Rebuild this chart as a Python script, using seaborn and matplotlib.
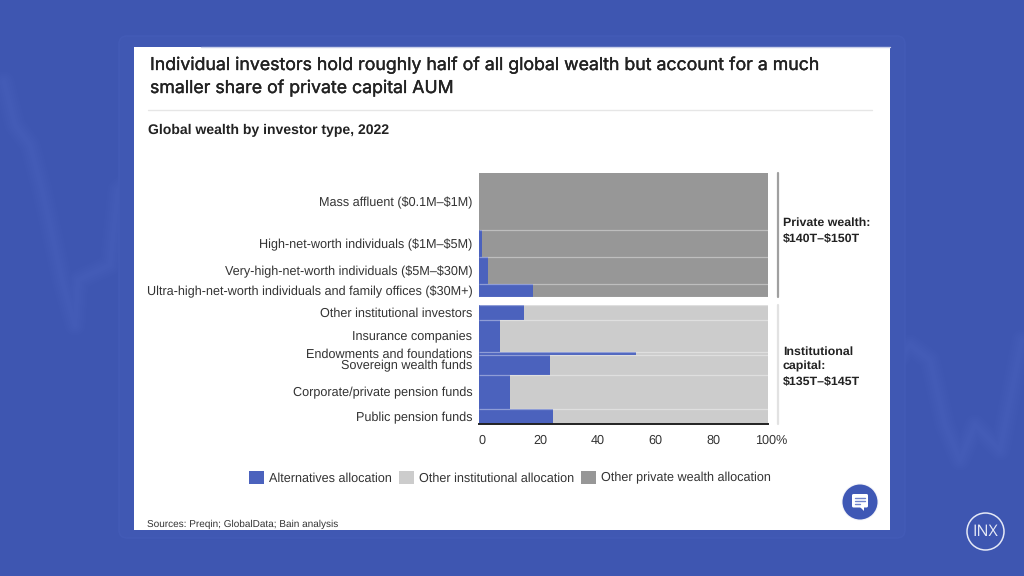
import numpy as np
import pandas as pd
import matplotlib
matplotlib.use("Agg")
import matplotlib.pyplot as plt
import matplotlib.patheffects as pe
from matplotlib.patches import Rectangle, Circle, FancyBboxPatch, Polygon
from matplotlib.transforms import ScaledTranslation
import seaborn as sns

categories = [r"Mass affluent (\$0.1M–\$1M)", r"High-net-worth individuals (\$1M–\$5M)",
              r"Very-high-net-worth individuals (\$5M–\$30M)",
              r"Ultra-high-net-worth individuals and family offices (\$30M+)",
              "Other institutional investors", "Insurance companies",
              "Endowments and foundations", "Sovereign wealth funds",
              "Corporate/private pension funds", "Public pension funds"]
band_sizes = [57.6, 26.4, 27.6, 12.7, 14.7, 31.6, 3.0, 20.4, 34.0, 14.6]
alternatives = [0, 0.8, 3.1, 18.7, 15.6, 7.3, 54.1, 24.6, 10.5, 25.4]
groups = ["private"] * 4 + ["institutional"] * 6
series_names = ["Alternatives allocation", "Other institutional allocation", "Other private wealth allocation"]
x_ticks = [0, 20, 40, 60, 80, 100]
x_tick_labels = ["0", "20", "40", "60", "80", "100%"]
group_gap = 8.0

BLUE, LIGHT, DARK = "#4b62bd", "#cccccc", "#979797"
TXT = "#333333"
BG = "#3e56b1"

sns.set_theme(style="white")
plt.rcParams["font.family"] = ["Liberation Sans", "DejaVu Sans"]
plt.rcParams["text.hinting"] = "none"

fig = plt.figure(figsize=(10.24, 5.76), dpi=100, facecolor=BG)

# page backdrop in pixel coordinates
ov = fig.add_axes([0, 0, 1, 1], zorder=0)
ov.set_xlim(0, 1024); ov.set_ylim(576, 0); ov.axis("off")
streaks = [([4, 15, 30, 42, 50, 62, 75, 78, 110, 118, 130], [82, 125, 145, 190, 225, 280, 325, 280, 265, 190, 180]),
           ([893, 910, 930, 945, 960, 975, 1000, 1010, 1022], [365, 345, 360, 425, 460, 425, 450, 400, 340])]
for sx, sy in streaks:
    for lw in (3, 6, 9, 12, 15):
        ov.plot(sx, sy, color="#5f7ad6", alpha=0.05, lw=lw, solid_capstyle="round", solid_joinstyle="round", zorder=0)
ov.add_patch(FancyBboxPatch((119, 36), 786, 502, boxstyle="round,pad=0,rounding_size=8",
                            fc="#4058b3", ec="#435bb7", lw=1, zorder=1))
ov.add_patch(Rectangle((134, 46.5), 756, 483.5, fc="white", ec="none", zorder=2))
ov.plot([201, 890], [46.8, 46.8], color="#c9d0ea", lw=1, zorder=3)
ov.plot([148, 872], [110, 110], color="#e6e6e6", lw=1, zorder=3)
stroke = [pe.withStroke(linewidth=0.25, foreground="#222222")]
for y, s in [(70, "Individual investors hold roughly half of all global wealth but account for a much"),
             (93, "smaller share of private capital AUM")]:
    ov.text(150, y, s, family="Inter", fontsize=12.75, color="#222222", va="baseline", zorder=4, path_effects=stroke)
ov.text(147.5, 134.5, "Global wealth by investor type, 2022", fontsize=10.1, weight="bold",
        color="#222222", va="baseline", zorder=4)
ov.text(147, 527, "Sources: Preqin; GlobalData; Bain analysis", fontsize=7.2, color=TXT, va="baseline", zorder=4)

# group brackets and notes
ov.plot([778, 778], [173, 297], color="#a0a0a0", lw=1.6, zorder=3)
ov.plot([778, 778], [305, 424], color="#e2e2e2", lw=1.6, zorder=3)
for y, s in [(226, "Private wealth:"), (242, r"\$140T–\$150T"),
             (355, "Institutional"), (370, "capital:"), (385, r"\$135T–\$145T")]:
    ov.text(783, y, s, fontsize=8.9, weight="bold", color="#222222", va="baseline", zorder=4)

# chat button
ov.add_patch(Circle((860, 502), 18.5, fc="#f1f2f8", ec="none", zorder=3))
ov.add_patch(Circle((860, 502), 17.5, fc="#3f58b5", ec="none", zorder=4))
ov.add_patch(FancyBboxPatch((852, 494), 16, 13.5, boxstyle="round,pad=0,rounding_size=1.5", fc="white", ec="none", zorder=5))
ov.add_patch(Polygon([[860, 507], [864, 507], [864, 511]], fc="white", ec="none", zorder=5))
for y, x2 in [(497.5, 865), (500.5, 865), (503.5, 860)]:
    ov.plot([855, x2], [y, y], color="#6f83cc", lw=1, zorder=6)

# INX logo
ov.add_patch(Circle((985.5, 531.5), 18.5, fc="none", ec="#e4e8f6", lw=1.1, zorder=3))
ov.text(985.5, 532, "INX", fontsize=11.5, family="Open Sans", color="#e8ebf7",
        ha="center", va="center", zorder=4)

# chart
W, H = 1024, 576
ax = fig.add_axes([479.3 / W, 1 - 423.6 / H, (768.3 - 479.3) / W, (423.6 - 172.7) / H], zorder=2)
ax.patch.set_alpha(0)

edges, pos = [0.0], 0.0
centers = []
for i, size in enumerate(band_sizes):
    if i and groups[i] != groups[i - 1]:
        pos += group_gap
        edges.append(pos)
    centers.append(pos + size / 2)
    pos += size
    edges.append(pos)

rows = []
for c, a, g in zip(centers, alternatives, groups):
    rows.append((c, a, series_names[0]))
    rows.append((c, 100 - a if g == "institutional" else 0, series_names[1]))
    rows.append((c, 100 - a if g == "private" else 0, series_names[2]))
df = pd.DataFrame(rows, columns=["pos", "share", "series"])

palette = dict(zip(series_names, [BLUE, LIGHT, DARK]))
sns.histplot(data=df, y="pos", weights="share", hue="series", bins=edges, multiple="stack",
             hue_order=series_names[::-1], palette=palette, alpha=1, linewidth=0,
             legend=False, ax=ax)

ax.set_xlim(0, 100)
ax.set_ylim(edges[-1], 0)
ax.hlines(edges[1:-1], 0, 100, color="white", alpha=0.38, lw=0.9, zorder=5)
ax.set_xlabel(""); ax.set_ylabel("")
ax.set_yticks(centers, categories)
ax.set_xticks(x_ticks, x_tick_labels)
ax.tick_params(axis="y", length=0, pad=5, labelsize=9.05, labelcolor=TXT)
ax.tick_params(axis="x", length=0, pad=8, labelsize=9.05, labelcolor=TXT)
shift = ScaledTranslation(3 / 100, 0, fig.dpi_scale_trans)
for lab in ax.get_xticklabels():
    lab.set_transform(lab.get_transform() + shift)
for side in ["top", "left", "right"]:
    ax.spines[side].set_visible(False)
ax.spines["bottom"].set_color("#222222")
ax.spines["bottom"].set_linewidth(1.4)

# legend
handles = [Rectangle((0, 0), 1, 1, fc=palette[s], ec="none") for s in series_names]
fig.legend(handles, series_names, loc="center", bbox_to_anchor=(510 / W, 1 - 477.5 / H), ncol=3, frameon=False,
           fontsize=9.08, labelcolor=TXT, handlelength=1.19, handleheight=1.19,
           handletextpad=0.4, columnspacing=0.55, borderpad=0, borderaxespad=0)

fig.savefig("out.png", dpi=100, facecolor=fig.get_facecolor())
